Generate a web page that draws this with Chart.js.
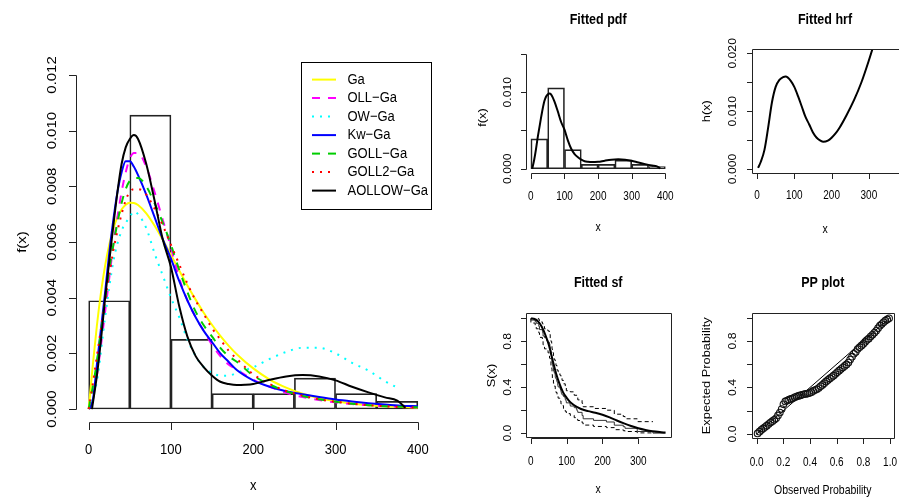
<!DOCTYPE html>
<html><head><meta charset="utf-8">
<script src="https://cdn.jsdelivr.net/npm/chart.js@4/dist/chart.umd.min.js"></script>
<style>
html,body{margin:0;padding:0;background:#fff;}
#wrap{position:relative;width:899px;height:497px;overflow:hidden;background:#fff;}
canvas{position:absolute;left:0;top:0;}
</style></head><body><div id="wrap">
<canvas id="cMain" width="899" height="497"></canvas>
<canvas id="cPdf" width="899" height="497"></canvas>
<canvas id="cHrf" width="899" height="497"></canvas>
<canvas id="cSf" width="899" height="497"></canvas>
<canvas id="cPp" width="899" height="497"></canvas>
</div>
<script>
// ---------------- DATA ----------------
const seriesNames = ['Ga','OLL\u2212Ga','OW\u2212Ga','Kw\u2212Ga','GOLL\u2212Ga','GOLL2\u2212Ga','AOLLOW\u2212Ga'];

// histogram (bin centres and densities)
const binCenters = [25,75,125,175,225,275,325,375];
const binDensity = [0.003889,0.010556,0.0025,0.000556,0.000556,0.001111,0.000556,0.000278];

// fitted densities on a common grid
const gridX = [0,5,10,15,20,25,30,35,40,45,50,55,60,70,80,90,100,110,120,130,140,150,160,170,180,200,220,240,260,280,300,320,340,360,380,400];
const gaPdf    = [0,.00157,.0030,.00419,.00515,.0059,.00648,.00689,.00717,.00734,.00741,.0074,.00733,.00703,.00659,.00608,.00553,.00498,.00444,.00393,.00345,.00302,.00263,.00228,.00197,.00146,.00106,.00077,.00055,.000395,.00028,.0002,.00014,.0001,.00007,.00005];
const ollPdf   = [0,.0004,.0012,.0023,.0035,.0047,.0059,.0069,.0078,.0085,.0090,.0092,.0092,.0087,.0078,.0068,.0058,.0047,.0039,.0033,.0028,.0023,.0019,.0016,.00142,.00105,.0008,.00058,.00043,.00032,.00024,.00018,.00014,.00011,.00008,.00006];
const kwPdf    = [0,.0003,.0016,.0029,.0042,.0056,.0068,.0078,.0085,.0089,.0089,.0087,.0084,.0077,.0069,.0061,.0054,.0046,.0039,.0033,.0028,.0024,.0020,.0017,.0014,.00103,.0008,.00064,.00053,.00043,.00034,.00027,.00021,.00016,.00012,.0001];
const gollPdf  = [0,.0008,.0017,.0028,.0039,.0050,.0059,.0067,.0074,.0079,.0082,.0083,.0083,.0080,.0074,.0067,.0059,.0050,.0042,.0035,.0030,.0026,.0022,.0019,.0017,.0012,.00088,.00064,.00047,.00035,.00026,.00019,.00014,.0001,.00008,.00006];
const goll2Pdf = [0,.0009,.0019,.0029,.0039,.0048,.0057,.0064,.0070,.0075,.0078,.0079,.0079,.0077,.0072,.0066,.0059,.0052,.0045,.0039,.0034,.0029,.0025,.0021,.0018,.00125,.0009,.00065,.00048,.00035,.00026,.00019,.00014,.0001,.00007,.00005];
const owX   = [0,10,20,30,40,50,55,60,70,80,90,100,110,120,130,140,150,160,170,180,190,200,220,240,260,280,300,320,340,360,373];
const owPdf = [0,.0010,.0033,.0053,.0064,.0069,.0071,.0070,.0065,.0056,.0048,.0040,.0033,.0025,.0019,.0015,.0013,.0012,.0012,.0013,.0014,.0015,.0018,.00205,.0022,.0022,.0020,.00166,.00138,.0010,.0008];
const aollowX   = [4,10,15,20,25,30,35,40,45,50,55,60,70,80,90,100,110,120,130,140,150,160,170,180,190,200,220,240,260,280,300,320,340,360,375,385];
const aollowPdf = [0,.0012,.0025,.0040,.0053,.0066,.0078,.0088,.0094,.0097,.00984,.0097,.0088,.0075,.0061,.0051,.0037,.0026,.0019,.0015,.0012,.00098,.0009,.00086,.00087,.0009,.00105,.00117,.00122,.00117,.00103,.0008,.0006,.00042,.0003,.00005];

// hazard rate
const hrfX = [3,10,20,30,40,50,60,70,77,90,100,110,120,130,140,150,160,170,178,190,200,210,220,240,260,280,300,315];
const hrfY = [.0002,.0012,.0033,.0072,.0115,.0142,.0154,.0159,.0160,.0153,.0142,.0126,.0108,.0090,.0077,.0063,.0054,.0049,.0047,.0049,.0054,.0061,.0070,.0093,.0119,.0150,.0188,.0219];

// survival: fitted, Kaplan-Meier and its band
const sfX = [0,10,20,30,40,50,60,70,80,90,100,110,120,140,160,180,200,220,240,260,280,300,320,340,360,376];
const sfY = [1,.995,.975,.93,.86,.77,.645,.525,.43,.355,.308,.27,.245,.21,.192,.178,.16,.137,.11,.085,.062,.042,.027,.016,.009,.005];
const kmTime = [0,12,15,22,24,32,33,34,38,43,44,48,52,53,54,55,56,57,58,59,60,61,62,63,65,67,68,70,72,73,75,76,81,83,84,85,87,91,95,96,98,99,109,110,121,127,129,131,143,146,175,211,233,258,263,297,341,376];
const kmSurv = [1,.986,.972,.958,.931,.903,.889,.875,.847,.833,.819,.806,.792,.778,.750,.736,.722,.708,.681,.667,.611,.597,.583,.569,.542,.528,.514,.486,.472,.458,.444,.417,.403,.389,.375,.361,.347,.333,.319,.306,.292,.278,.264,.250,.236,.222,.208,.194,.181,.153,.125,.111,.097,.069,.056,.042,.014,0];
const bandTime  = [0,12,15,22,24,32,34,38,44,48,52,54,56,58,59,60,62,63,65,68,70,73,76,81,84,87,91,96,99,110,121,129,131,143,146,175,211,233,258,263,297,341];
const bandUpper = [1,1,1,1,.99,.97,.955,.93,.91,.90,.89,.86,.83,.80,.785,.735,.71,.70,.67,.64,.615,.59,.55,.535,.505,.48,.46,.43,.40,.37,.36,.33,.31,.29,.26,.23,.215,.20,.165,.145,.125,.10];
const bandLower = [1,.96,.935,.91,.875,.835,.80,.77,.735,.72,.70,.655,.625,.58,.565,.51,.48,.465,.435,.41,.385,.355,.32,.305,.28,.255,.24,.215,.19,.17,.155,.135,.12,.11,.09,.07,.058,.048,.03,.021,.014,.002];

// PP plot
const ppObs = [.007,.021,.035,.049,.063,.076,.090,.104,.118,.132,.146,.160,.174,.188,.201,.215,.229,.243,.257,.271,.285,.299,.313,.326,.340,.354,.368,.382,.396,.410,.424,.438,.451,.465,.479,.493,.507,.521,.535,.549,.563,.576,.590,.604,.618,.632,.646,.660,.674,.688,.701,.715,.729,.743,.757,.771,.785,.799,.813,.826,.840,.854,.868,.882,.896,.910,.924,.938,.951,.965,.979,.993];
const ppExp = [.005,.02,.035,.048,.06,.072,.086,.098,.11,.122,.135,.16,.185,.215,.255,.28,.288,.295,.302,.307,.315,.322,.327,.332,.337,.342,.345,.348,.352,.36,.37,.378,.385,.395,.41,.422,.437,.452,.465,.478,.49,.502,.516,.53,.545,.558,.572,.585,.598,.615,.64,.665,.69,.705,.73,.745,.76,.775,.792,.808,.82,.838,.853,.87,.888,.91,.932,.945,.96,.975,.985,.995];
const ppRef = [0,1];

// tick values and labels
const mainXTicks = [0,100,200,300,400];
const mainYTicks = [0,0.002,0.004,0.006,0.008,0.010,0.012];
const mainYLabels = ['0.000','0.002','0.004','0.006','0.008','0.010','0.012'];
const pdfYTicks = [0,0.005,0.010,0.015];
const pdfYLabels = ['0.000','','0.010',''];
const hrfXTicks = [0,100,200,300];
const hrfYTicks = [0,0.005,0.010,0.015,0.020];
const hrfYLabels = ['0.000','','0.010','','0.020'];
const sfYTicks = [0,0.2,0.4,0.6,0.8,1.0];
const sfYLabels = ['0.0','','0.4','','0.8',''];
const ppXTicks = [0,0.2,0.4,0.6,0.8,1.0];
const ppXLabels = ['0.0','0.2','0.4','0.6','0.8','1.0'];

// ---------------- DRAWING HELPERS ----------------
const FONT = '"Liberation Sans", Arial, Helvetica, sans-serif';
const pts = (xs, ys) => xs.map((x, i) => ({x: x, y: ys[i]}));
const asLabels = (arr, digits) => arr.map(v => v.toFixed(digits));

function drawText(ctx, s, x, y, o) {
  ctx.save();
  ctx.translate(x, y);
  ctx.scale(1, o.stretch || 1.15);
  if (o.rot) ctx.rotate(o.rot);
  ctx.font = (o.bold ? 'bold ' : '') + o.size + 'px ' + FONT;
  ctx.fillStyle = '#000';
  ctx.textAlign = o.align || 'center';
  ctx.textBaseline = 'middle';
  ctx.fillText(s, 0, 0);
  ctx.restore();
}

const rAxes = {
  id: 'rAxes',
  afterDraw(chart, args, o) {
    if (!o || !o.xTicks) return;
    const ctx = chart.ctx, a = chart.chartArea, xs = chart.scales.x, ys = chart.scales.y;
    const st = o.stretch || 1.15;
    ctx.save();
    ctx.strokeStyle = '#222';
    ctx.lineWidth = 1;
    ctx.setLineDash([]);
    ctx.beginPath();
    if (o.box) ctx.rect(Math.round(a.left) + .5, Math.round(a.top) + .5, Math.round(a.right - a.left), Math.round(a.bottom - a.top));
    const yb = Math.round(a.bottom) + .5;
    const px = v => Math.round(xs.getPixelForValue(v)) + .5;
    const py = v => Math.round(ys.getPixelForValue(v)) + .5;
    ctx.moveTo(px(o.xTicks[0]), yb); ctx.lineTo(px(o.xTicks[o.xTicks.length - 1]), yb);
    o.xTicks.forEach(v => { ctx.moveTo(px(v), yb); ctx.lineTo(px(v), yb + o.tick); });
    const xl = Math.round(a.left) + .5;
    ctx.moveTo(xl, py(o.yTicks[0])); ctx.lineTo(xl, py(o.yTicks[o.yTicks.length - 1]));
    o.yTicks.forEach(v => { ctx.moveTo(xl, py(v)); ctx.lineTo(xl - o.tick, py(v)); });
    ctx.stroke();
    o.xTicks.forEach((v, i) => { const s = o.xLabels[i]; if (s) drawText(ctx, s, xs.getPixelForValue(v), a.bottom + o.xLabOff, {size: o.tickSize, stretch: st}); });
    o.yTicks.forEach((v, i) => { const s = o.yLabels[i]; if (s) drawText(ctx, s, a.left - o.yLabOff, ys.getPixelForValue(v), {size: o.tickSize, rot: -Math.PI / 2, stretch: st}); });
    const cx = (a.left + a.right) / 2;
    drawText(ctx, o.xTitle, cx, a.bottom + o.xTitleOff, {size: o.titleSize, stretch: st});
    drawText(ctx, o.yTitle, a.left - o.yTitleOff, o.yTitleY != null ? o.yTitleY : (a.top + a.bottom) / 2, {size: o.titleSize, rot: -Math.PI / 2, stretch: st});
    if (o.main) drawText(ctx, o.main, cx, a.top + o.mainOff, {size: 12.5, bold: true, stretch: 1.12});
    if (o.legend) {
      const L = o.legend, w = 130, h = 147;
      const lx = a.right - w, ly = a.top;
      ctx.strokeStyle = '#000';
      ctx.strokeRect(Math.round(lx) + .5, Math.round(ly) + .5, w, h);
      L.forEach((di, i) => {
        const ds = chart.data.datasets[di];
        const ry = ly + 18 + i * 18.5;
        ctx.save();
        ctx.strokeStyle = ds.borderColor;
        ctx.lineWidth = ds.borderWidth;
        ctx.setLineDash(ds.borderDash || []);
        ctx.beginPath(); ctx.moveTo(lx + 11, ry); ctx.lineTo(lx + 35, ry); ctx.stroke();
        ctx.restore();
        drawText(ctx, ds.label, lx + 46.5, ry, {size: 13, align: 'left', stretch: st});
      });
    }
    ctx.restore();
  }
};
Chart.register(rAxes);

function baseOptions(pad, xr, yr, xt, yt, axes) {
  return {
    responsive: false, animation: false, devicePixelRatio: 1, events: [],
    layout: {padding: {left: pad[0], top: pad[1], right: 899 - pad[2], bottom: 497 - pad[3]}},
    scales: {
      x: {type: 'linear', display: false, offset: false, min: xr[0], max: xr[1], afterBuildTicks: s => { s.ticks = xt.map(v => ({value: v})); }},
      y: {type: 'linear', display: false, offset: false, min: yr[0], max: yr[1], afterBuildTicks: s => { s.ticks = yt.map(v => ({value: v})); }}
    },
    plugins: {legend: {display: false}, tooltip: {enabled: false}, rAxes: axes}
  };
}
const lineDs = (label, xs, ys, color, width, dash, order) => ({
  type: 'line', label: label, data: pts(xs, ys), borderColor: color, borderWidth: width,
  borderDash: dash, pointRadius: 0, fill: false, cubicInterpolationMode: 'monotone',
  borderCapStyle: 'butt', order: order
});
const histDs = () => ({
  type: 'bar', label: 'hist', data: pts(binCenters, binDensity), backgroundColor: 'rgba(0,0,0,0)',
  borderColor: '#222', borderWidth: 1, borderSkipped: false, barPercentage: 1, categoryPercentage: 1,
  grouped: false, order: 20
});

// ---------------- MAIN PANEL ----------------
new Chart(document.getElementById('cMain'), {
  type: 'bar',
  data: {datasets: [
    histDs(),
    lineDs(seriesNames[0], gridX, gaPdf, '#FFFF00', 2, [], 7),
    lineDs(seriesNames[1], gridX, ollPdf, '#FF00FF', 2, [8, 8], 6),
    lineDs(seriesNames[2], owX, owPdf, '#00FFFF', 2, [2, 6], 5),
    lineDs(seriesNames[3], gridX, kwPdf, '#0000FF', 2, [], 4),
    lineDs(seriesNames[4], gridX, gollPdf, '#00CD00', 2, [8, 8], 3),
    lineDs(seriesNames[5], gridX, goll2Pdf, '#FF0000', 2, [2, 6], 2),
    lineDs(seriesNames[6], aollowX, aollowPdf, '#000000', 2, [], 1)
  ]},
  options: baseOptions([75.5, 61.6, 431, 422.4], [-16, 416], [-0.00048, 0.01248], mainXTicks, mainYTicks, {
    xTicks: mainXTicks, xLabels: asLabels(mainXTicks, 0), yTicks: mainYTicks, yLabels: mainYLabels,
    tick: 7.5, tickSize: 13, titleSize: 13, stretch: 1.15, xLabOff: 27, yLabOff: 23.2, xTitleOff: 63.5, yTitleOff: 52.8,
    xTitle: 'x', yTitle: 'f(x)', legend: [1, 2, 3, 4, 5, 6, 7]
  })
});

// ---------------- FITTED PDF ----------------
new Chart(document.getElementById('cPdf'), {
  type: 'bar',
  data: {datasets: [
    histDs(),
    lineDs('AOLLOW', aollowX, aollowPdf, '#000000', 2, [], 1)
  ]},
  options: baseOptions([525.5, 49.3, 670.7, 173.3], [-16, 416], [-0.0006, 0.0156], mainXTicks, pdfYTicks, {
    xTicks: mainXTicks, xLabels: asLabels(mainXTicks, 0), yTicks: pdfYTicks, yLabels: pdfYLabels,
    tick: 5.5, tickSize: 10, titleSize: 10.5, stretch: 1.22, xLabOff: 23.4, yLabOff: 17.2, xTitleOff: 54, yTitleOff: 42.2, yTitleY: 117.5,
    xTitle: 'x', yTitle: 'f(x)', main: 'Fitted pdf', mainOff: -29.3
  })
});

// ---------------- FITTED HRF ----------------
new Chart(document.getElementById('cHrf'), {
  type: 'line',
  data: {datasets: [lineDs('hrf', hrfX, hrfY, '#000000', 2, [], 1)]},
  options: baseOptions([751.7, 49.3, 898.3, 173], [-14.2, 378.8], [-0.0007, 0.0207], hrfXTicks, hrfYTicks, {
    box: true, xTicks: hrfXTicks, xLabels: asLabels(hrfXTicks, 0), yTicks: hrfYTicks, yLabels: hrfYLabels,
    tick: 5.5, tickSize: 10, titleSize: 10.5, stretch: 1.22, xLabOff: 23, yLabOff: 18.4, xTitleOff: 56.5, yTitleOff: 45,
    xTitle: 'x', yTitle: 'h(x)', main: 'Fitted hrf', mainOff: -29.3
  })
});

// ---------------- FITTED SF ----------------
const bandDs = (ys) => Object.assign(lineDs('band', bandTime, ys, '#000000', 1, [4, 3], 3), {stepped: 'after', cubicInterpolationMode: 'default'});
new Chart(document.getElementById('cSf'), {
  type: 'line',
  data: {datasets: [
    lineDs('fitted', sfX, sfY, '#000000', 2, [], 1),
    Object.assign(lineDs('km', kmTime, kmSurv, '#333333', 1, [], 2), {stepped: 'after', cubicInterpolationMode: 'default'}),
    bandDs(bandUpper),
    bandDs(bandLower)
  ]},
  options: baseOptions([525.7, 313.3, 670.7, 437.7], [-14.5, 390.5], [-0.04, 1.045], hrfXTicks, sfYTicks, {
    box: true, xTicks: hrfXTicks, xLabels: asLabels(hrfXTicks, 0), yTicks: sfYTicks, yLabels: sfYLabels,
    tick: 5.5, tickSize: 10, titleSize: 10.5, stretch: 1.22, xLabOff: 24, yLabOff: 17.4, xTitleOff: 51.5, yTitleOff: 34,
    xTitle: 'x', yTitle: 'S(x)', main: 'Fitted sf', mainOff: -30
  })
});

// ---------------- PP PLOT ----------------
new Chart(document.getElementById('cPp'), {
  type: 'scatter',
  data: {datasets: [
    {type: 'scatter', label: 'pp', data: pts(ppObs, ppExp), pointRadius: 3.3, pointBorderWidth: 1.1,
     borderColor: '#111', backgroundColor: 'rgba(0,0,0,0)', pointBackgroundColor: 'rgba(0,0,0,0)', order: 1},
    Object.assign(lineDs('ref', ppRef, ppRef, '#000000', 1, [], 2), {cubicInterpolationMode: 'default'})
  ]},
  options: baseOptions([751.7, 313.3, 897.3, 438.3], [-0.037, 1.029], [-0.037, 1.038], ppXTicks, sfYTicks, {
    box: true, xTicks: ppXTicks, xLabels: ppXLabels, yTicks: sfYTicks, yLabels: sfYLabels,
    tick: 5.5, tickSize: 10, titleSize: 10.5, stretch: 1.22, xLabOff: 24.4, yLabOff: 18.4, xTitleOff: 51.7, yTitleOff: 44.4,
    xTitle: 'Observed Probability', yTitle: 'Expected Probability', main: 'PP plot', mainOff: -30
  })
});
</script>
</body></html>
